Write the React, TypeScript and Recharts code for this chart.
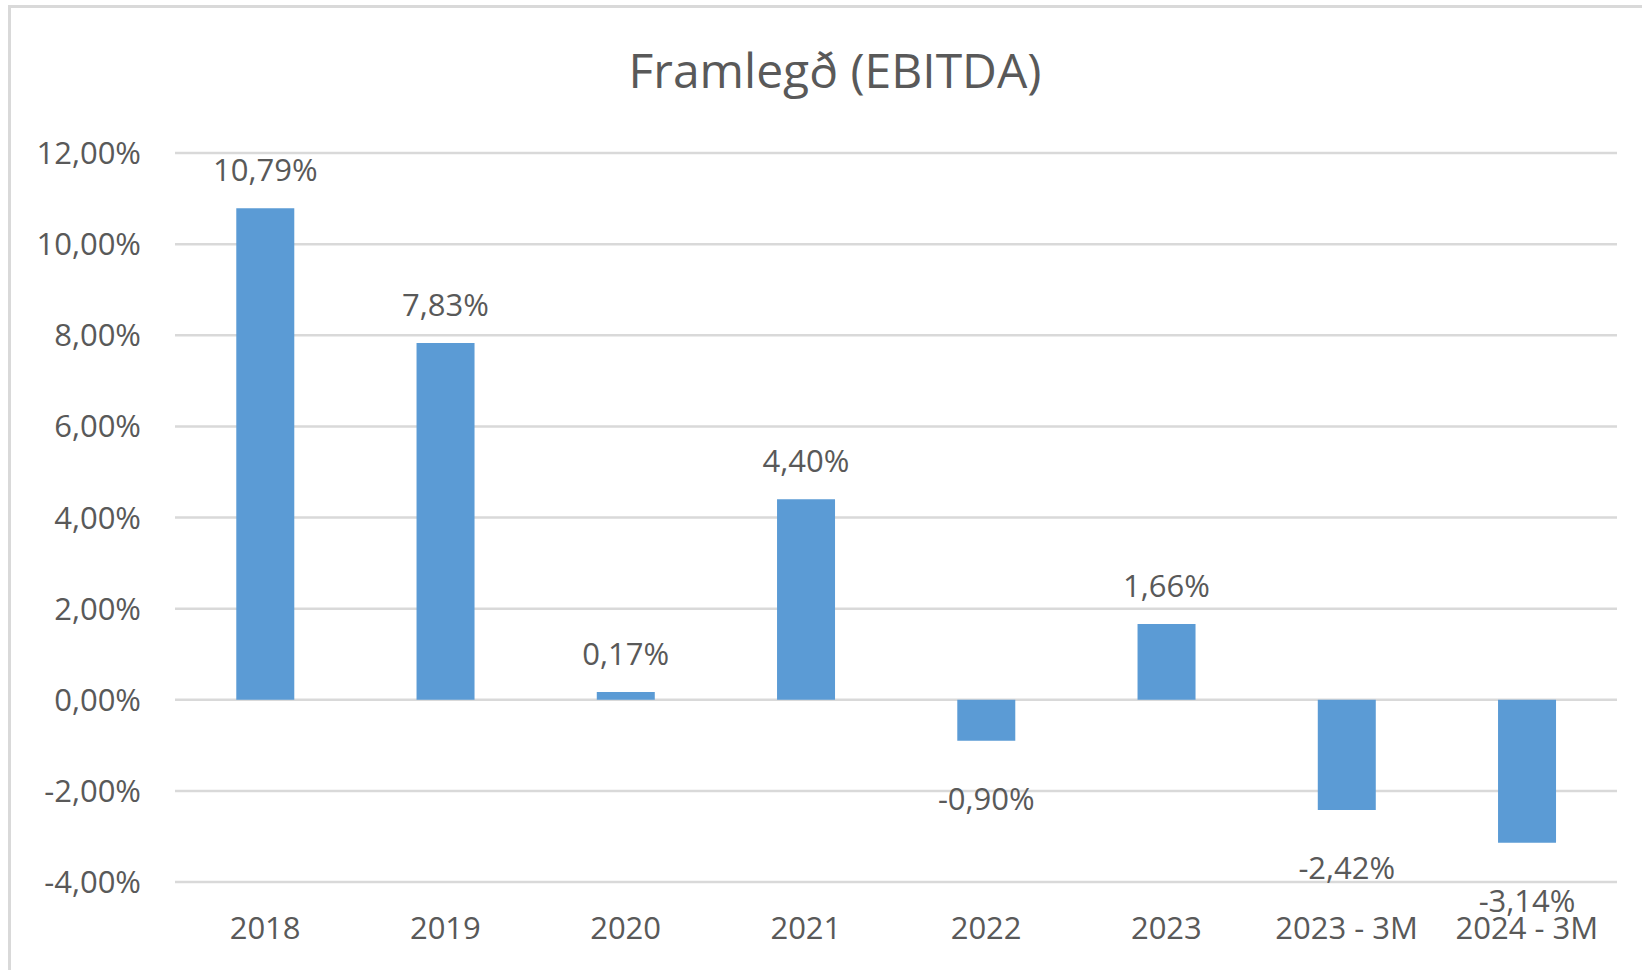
import { BarChart, Bar, XAxis, YAxis, CartesianGrid, LabelList } from 'recharts';

const periods = ['2018', '2019', '2020', '2021', '2022', '2023', '2023 - 3M', '2024 - 3M'];
const ebitdaMargin = [10.79, 7.83, 0.17, 4.4, -0.9, 1.66, -2.42, -3.14];
const yTicks = [-4, -2, 0, 2, 4, 6, 8, 10, 12];

const data = periods.map((period, i) => ({ period, value: ebitdaMargin[i] }));

const FONT = '"Open Sans", sans-serif';
const TEXT = '#595959';
const GRID = '#d9d9d9';

const pct = (v: number) => v.toFixed(2).replace('.', ',') + '%';

function ValueLabel(props: any) {
  const { x, y, width, height, value } = props;
  const top = Math.min(y, y + height);
  const bottom = Math.max(y, y + height);
  const cy = value >= 0 ? top - 38 : bottom + 58;
  return (
    <text
      x={x + width / 2}
      y={cy}
      dy="0.355em"
      textAnchor="middle"
      fill={TEXT}
      fontSize={31}
      fontFamily={FONT}
    >
      {pct(value)}
    </text>
  );
}

export default function App() {
  return (
    <div
      style={{
        position: 'fixed',
        left: 0,
        top: 0,
        width: 1642,
        height: 970,
        overflow: 'hidden',
        background: '#fff',
        fontFamily: FONT,
      }}
    >
      <div
        style={{
          position: 'absolute',
          left: 8,
          top: 5,
          width: 2000,
          height: 2000,
          borderLeft: `3px solid ${GRID}`,
          borderTop: `3px solid ${GRID}`,
        }}
      />
      <div
        style={{
          position: 'absolute',
          left: 0,
          width: 1670,
          top: 40,
          textAlign: 'center',
          fontSize: 48,
          lineHeight: '60px',
          color: TEXT,
        }}
      >
        Framlegð (EBITDA)
      </div>
      <div style={{ position: 'absolute', left: 0, top: 0 }}>
        <BarChart
          width={1642}
          height={970}
          data={data}
          margin={{ top: 153, right: 25, bottom: 38, left: 0 }}
          barCategoryGap="34%"
        >
          <CartesianGrid vertical={false} stroke={GRID} strokeWidth={2.5} />
          <XAxis
            dataKey="period"
            axisLine={false}
            tickLine={false}
            tickSize={0}
            tickMargin={35}
            height={50}
            interval={0}
            tick={{ fill: TEXT, fontSize: 31, fontFamily: FONT }}
          />
          <YAxis
            domain={[-4, 12]}
            ticks={yTicks}
            width={175}
            axisLine={false}
            tickLine={false}
            tickSize={0}
            tickMargin={34}
            tickFormatter={pct}
            tick={{ fill: TEXT, fontSize: 31, fontFamily: FONT }}
          />
          <Bar dataKey="value" fill="#5b9bd5" isAnimationActive={false}>
            <LabelList dataKey="value" content={<ValueLabel />} />
          </Bar>
        </BarChart>
      </div>
    </div>
  );
}
